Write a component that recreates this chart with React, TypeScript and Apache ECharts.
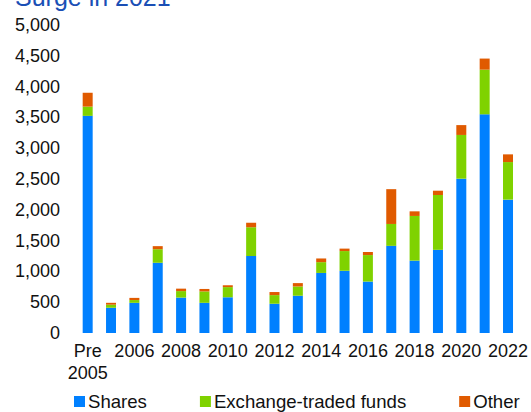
import React, { useEffect, useRef } from "react";
import * as echarts from "echarts";

const titleText = "Surge in 2021";
const categories = [
  "Pre\n2005", "2005", "2006", "2007", "2008", "2009", "2010", "2011", "2012", "2013",
  "2014", "2015", "2016", "2017", "2018", "2019", "2020", "2021", "2022",
];
const shares = [3525, 410, 490, 1140, 575, 490, 580, 1250, 475, 605, 975, 1010, 835, 1415, 1175, 1350, 2505, 3550, 2165];
const etfs = [150, 50, 45, 220, 105, 185, 165, 465, 140, 150, 175, 320, 430, 355, 725, 890, 710, 725, 610];
const other = [225, 30, 35, 50, 40, 40, 30, 75, 50, 55, 60, 40, 50, 565, 75, 70, 160, 180, 125];
const seriesNames = ["Shares", "Exchange-traded funds", "Other"];

const FONT = "'Liberation Sans', Arial, sans-serif";
const COLORS = ["#0080FF", "#7FD200", "#E05A00"];

export default function App() {
  const ref = useRef<HTMLDivElement>(null);
  useEffect(() => {
    if (!ref.current) return;
    const chart = echarts.init(ref.current, null, { renderer: "svg" });
    const values = [shares, etfs, other];
    chart.setOption({
      animation: false,
      color: COLORS,
      textStyle: { fontFamily: FONT },
      title: {
        text: titleText,
        left: 10,
        top: -21,
        textStyle: { fontFamily: FONT, fontSize: 25, fontWeight: "normal", color: "#1A4FB5" },
      },
      legend: {
        data: seriesNames,
        left: 74,
        top: 392,
        padding: 0,
        itemWidth: 11,
        itemHeight: 11,
        itemGap: 53,
        icon: "rect",
        textStyle: { fontFamily: FONT, fontSize: 18.6, color: "#111", padding: [0, 0, 0, -2] },
      },
      grid: { left: 76, right: 10, top: 25, bottom: 79, containLabel: false },
      xAxis: {
        type: "category",
        data: categories,
        axisLine: { show: false },
        axisTick: { show: false },
        axisLabel: {
          interval: 1,
          margin: 7,
          fontFamily: FONT,
          fontSize: 18,
          lineHeight: 22,
          color: "#111",
        },
      },
      yAxis: {
        type: "value",
        min: 0,
        max: 5000,
        interval: 500,
        splitLine: { show: false },
        axisLine: { show: false },
        axisTick: { show: false },
        axisLabel: {
          margin: 16,
          fontFamily: FONT,
          fontSize: 18,
          color: "#111",
          formatter: (v: number) => v.toLocaleString("en-US"),
        },
      },
      series: seriesNames.map((name, i) => ({
        name,
        type: "bar",
        stack: "total",
        barWidth: 10,
        data: values[i],
        itemStyle: { color: COLORS[i] },
      })),
    });
    return () => chart.dispose();
  }, []);
  return (
    <div
      ref={ref}
      style={{ position: "fixed", left: 0, top: 0, width: 531, height: 412, background: "#fff" }}
    />
  );
}
